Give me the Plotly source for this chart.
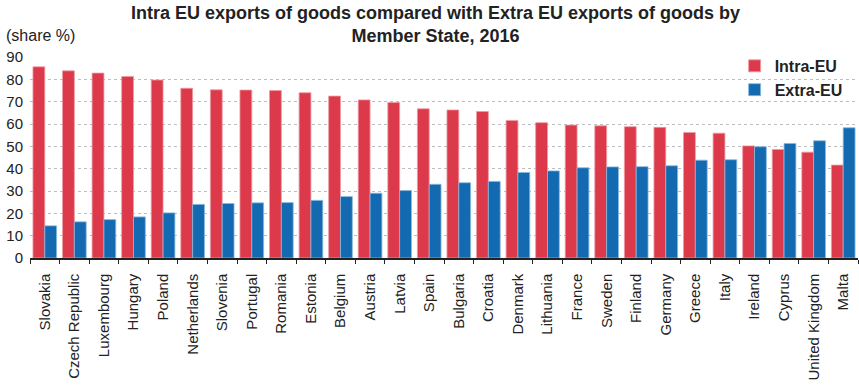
import plotly.graph_objects as go

countries = ["Slovakia", "Czech Republic", "Luxembourg", "Hungary", "Poland", "Netherlands",
             "Slovenia", "Portugal", "Romania", "Estonia", "Belgium", "Austria", "Latvia",
             "Spain", "Bulgaria", "Croatia", "Denmark", "Lithuania", "France", "Sweden",
             "Finland", "Germany", "Greece", "Italy", "Ireland", "Cyprus", "United Kingdom", "Malta"]
intra_eu = [85.6, 83.8, 82.8, 81.3, 79.7, 76.0, 75.3, 75.2, 75.0, 74.0, 72.5, 70.8, 69.6,
            66.8, 66.3, 65.6, 61.6, 60.6, 59.5, 59.2, 58.8, 58.5, 56.2, 55.9, 50.2, 48.6, 47.4, 41.6]
extra_eu = [14.4, 16.2, 17.2, 18.4, 20.2, 24.0, 24.4, 24.7, 24.8, 25.8, 27.5, 29.0, 30.2,
            33.0, 33.7, 34.3, 38.3, 39.0, 40.4, 40.8, 40.9, 41.3, 43.8, 44.0, 49.8, 51.3, 52.5, 58.3]
yticks = [0, 10, 20, 30, 40, 50, 60, 70, 80, 90]

FONT = "Arial, Liberation Sans, sans-serif"
RED = "#DC3A4A"
BLUE = "#136AB0"

fig = go.Figure()
fig.add_trace(go.Bar(x=countries, y=intra_eu, name="<b>Intra-EU</b>",
                     marker=dict(color=RED, line=dict(color="#EE9AA3", width=0.8))))
fig.add_trace(go.Bar(x=countries, y=extra_eu, name="<b>Extra-EU</b>",
                     marker=dict(color=BLUE, line=dict(color="#8AB8DE", width=0.8))))

fig.update_layout(
    width=859, height=385,
    margin=dict(l=30, r=1, t=57, b=127),
    paper_bgcolor="white", plot_bgcolor="white",
    font=dict(family=FONT, color="#222222", size=14),
    barmode="group", bargap=0.2, bargroupgap=0.0,
    legend=dict(x=0.851, y=1.04, xanchor="left", yanchor="top",
                font=dict(size=16, color="#222222", family=FONT),
                bgcolor="rgba(0,0,0,0)", tracegroupgap=0, itemwidth=30,
                traceorder="normal"),
    showlegend=True,
)
fig.update_xaxes(
    tickangle=-90, tickfont=dict(size=15, color="#222222"),
    ticks="outside", tickson="boundaries", ticklen=4, tickcolor="#222222",
    showline=True, linecolor="#222222", linewidth=1.5, showgrid=False,
    ticklabelstandoff=8,
)
fig.update_yaxes(
    range=[0, 90], tickvals=yticks, tickfont=dict(size=15, color="#222222"),
    showgrid=True, gridcolor="#BDBDBD", griddash="3px,3px", gridwidth=1,
    zeroline=False, showline=False, ticks="", ticklabelstandoff=6,
)
# title as annotation (two lines, bold)
fig.add_annotation(text="<b>Intra EU exports of goods compared with Extra EU exports of goods by<br>Member State, 2016</b>",
                   xref="paper", yref="paper", x=0.49, y=1 + 56 / 201,
                   xanchor="center", yanchor="top", showarrow=False, align="center",
                   font=dict(size=18, color="#222222", family=FONT))
fig.add_annotation(text="(share %)", xref="paper", yref="paper", x=-0.031, y=1 + 21 / 201,
                   xanchor="left", yanchor="middle", showarrow=False,
                   font=dict(size=16, color="#222222", family=FONT))

fig.write_html("out.html")
